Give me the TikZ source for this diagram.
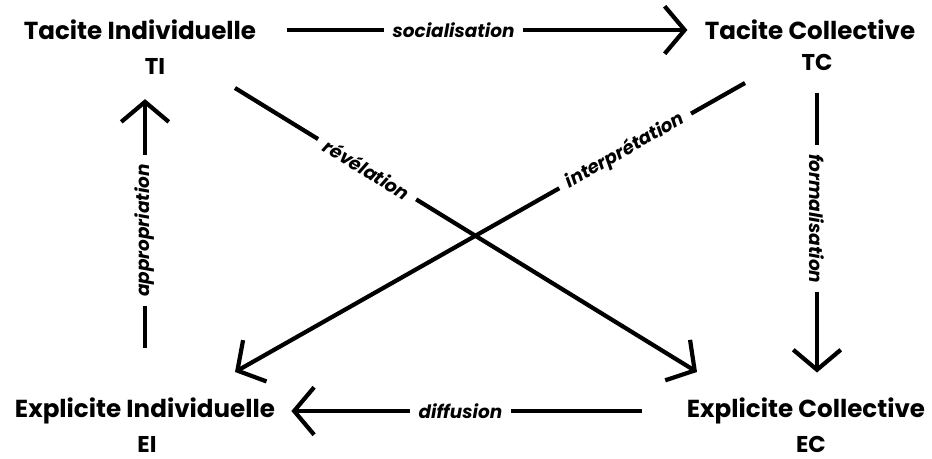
\documentclass[tikz,border=0pt]{standalone}
\usepackage{fontspec}
\setmainfont{Poppins}
\usetikzlibrary{arrows.meta}

\begin{document}
\begin{tikzpicture}[
    x=0.02cm, y=-0.02cm,
    concept/.style={font=\bfseries\fontsize{14}{16}\selectfont, inner sep=0pt},
    abbr/.style={font=\bfseries\fontsize{13}{15}\selectfont, inner sep=1pt},
    flow/.style={line width=2.4pt, -{Straight Barb[length=0.4cm, width=0.95cm]}},
    verb/.style={font=\bfseries\itshape\fontsize{10.5}{12}\selectfont, fill=white,
        inner xsep=5pt, inner ysep=1pt, sloped},
]
\useasboundingbox (0,0) rectangle (932,459);

% Quadrants
\node[concept] (ti) at (140,30) {Tacite Individuelle};
\node[abbr] (tiab) at (155,66) {TI};
\node[concept] (tc) at (810,30) {Tacite Collective};
\node[abbr] (tcab) at (817,62) {TC};
\node[concept] (ei) at (145,411) {Explicite Individuelle};
\node[abbr] (eiab) at (147,444) {EI};
\node[concept] (ec) at (806,411) {Explicite Collective};
\node[abbr] (ecab) at (811,444) {EC};

% Diagonal ends
\coordinate (rev-a) at (235,88);
\coordinate (rev-b) at (697,372);
\coordinate (int-a) at (745,83);
\coordinate (int-b) at (235,372);

% Conversions
\draw[flow, shorten <=0.62cm, shorten >=0.34cm] (ti.east) --
    node[verb, pos=0.44] {socialisation} (tc.west);
\draw[flow, shorten <=0.42cm, shorten >=0.5cm] (tcab.south) --
    node[verb, pos=0.45] {formalisation} (tcab.south |- ec.north);
\draw[flow, shorten <=0.9cm, shorten >=0.32cm] (ec.west) --
    node[verb, pos=0.55] {diffusion} (ei.east);
\draw[flow, shorten <=1.0cm, shorten >=0.46cm] (ei.north) --
    node[verb, pos=0.52] {appropriation} (ei.north |- tiab.south);
\draw[flow] (rev-a) -- node[verb, pos=0.286] {révélation} (rev-b);
\draw[flow] (int-a) -- node[verb, pos=0.235] {interprétation} (int-b);

\end{tikzpicture}
\end{document}
